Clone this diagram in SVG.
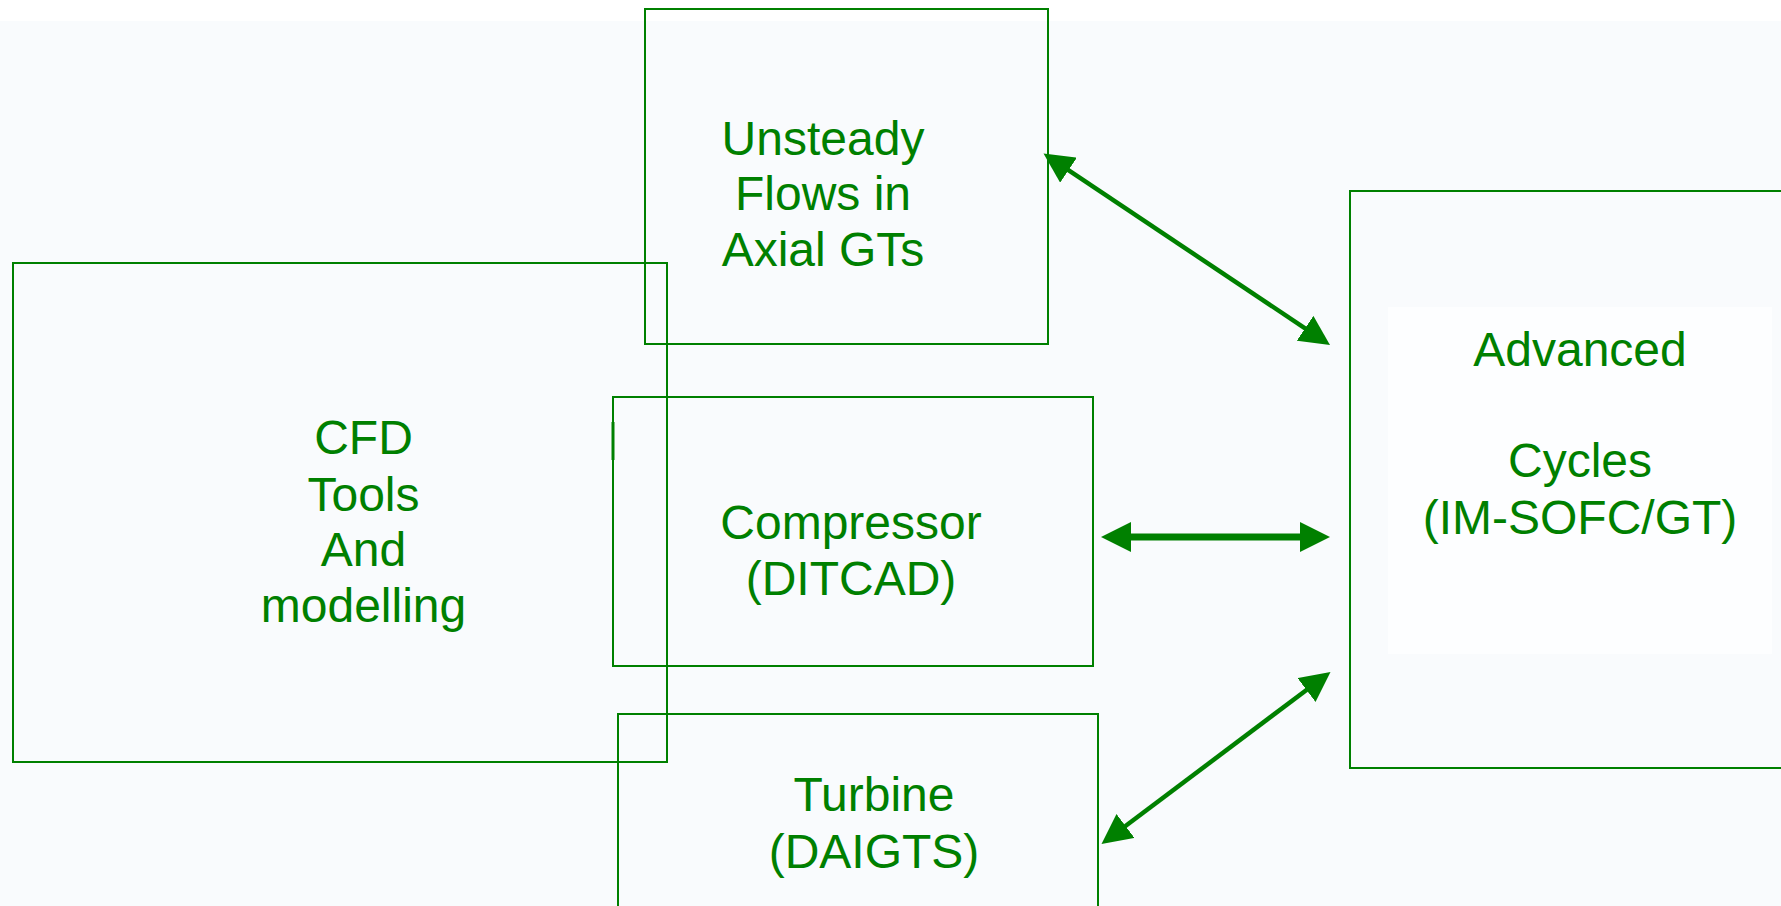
<svg xmlns="http://www.w3.org/2000/svg" width="1781" height="906" viewBox="0 0 1781 906">
  <style>
    .box { fill: none; stroke: #008000; stroke-width: 2; }
    .lbl { font-family: "Liberation Sans", Arial, sans-serif; font-size: 48px; fill: #008000; text-anchor: middle; }
    .conn { stroke: #008000; fill: none; }
  </style>
  <defs>
    <marker id="head" viewBox="0 0 30 30" refX="5" refY="15" markerWidth="30" markerHeight="30" markerUnits="userSpaceOnUse" orient="auto-start-reverse">
      <path d="M0,0 L30,15 L0,30 z" fill="#008000"/>
    </marker>
  </defs>
  <rect x="0" y="0" width="1781" height="906" fill="#ffffff"/>
  <rect x="0" y="21" width="1781" height="885" fill="#f9fbfd"/>

  <g id="node-cfd">
    <rect class="box" x="13" y="263" width="654" height="499"/>
    <text class="lbl" x="363.5" y="454">CFD</text>
    <text class="lbl" x="363.5" y="511">Tools</text>
    <text class="lbl" x="363.5" y="566">And</text>
    <text class="lbl" x="363.5" y="622">modelling</text>
  </g>

  <g id="node-unsteady">
    <rect class="box" x="645" y="9" width="403" height="335"/>
    <text class="lbl" x="823" y="155">Unsteady</text>
    <text class="lbl" x="823" y="210">Flows in</text>
    <text class="lbl" x="823" y="266">Axial GTs</text>
  </g>

  <g id="node-compressor">
    <rect class="box" x="613" y="397" width="480" height="269"/>
    <path d="M613,422 V460" stroke="#008000" stroke-width="3"/>
    <text class="lbl" x="851" y="539">Compressor</text>
    <text class="lbl" x="851" y="595">(DITCAD)</text>
  </g>

  <g id="node-turbine">
    <rect class="box" x="618" y="714" width="480" height="300"/>
    <text class="lbl" x="874" y="811">Turbine</text>
    <text class="lbl" x="874" y="868">(DAIGTS)</text>
  </g>

  <g id="node-advanced">
    <rect class="box" x="1350" y="191" width="500" height="577"/>
    <rect x="1388" y="307" width="384" height="347" fill="#fdfeff"/>
    <text class="lbl" x="1580" y="366">Advanced</text>
    <text class="lbl" x="1580" y="477">Cycles</text>
    <text class="lbl" x="1580" y="534">(IM-SOFC/GT)</text>
  </g>

  <g id="connectors">
    <line class="conn" x1="1064.3" y1="167.4" x2="1309.2" y2="331.1" stroke-width="4.5" marker-start="url(#head)" marker-end="url(#head)"/>
    <line class="conn" x1="1126" y1="537" x2="1305" y2="537" stroke-width="7" marker-start="url(#head)" marker-end="url(#head)"/>
    <line class="conn" x1="1121.5" y1="829" x2="1310.5" y2="687" stroke-width="4.5" marker-start="url(#head)" marker-end="url(#head)"/>
  </g>
</svg>
